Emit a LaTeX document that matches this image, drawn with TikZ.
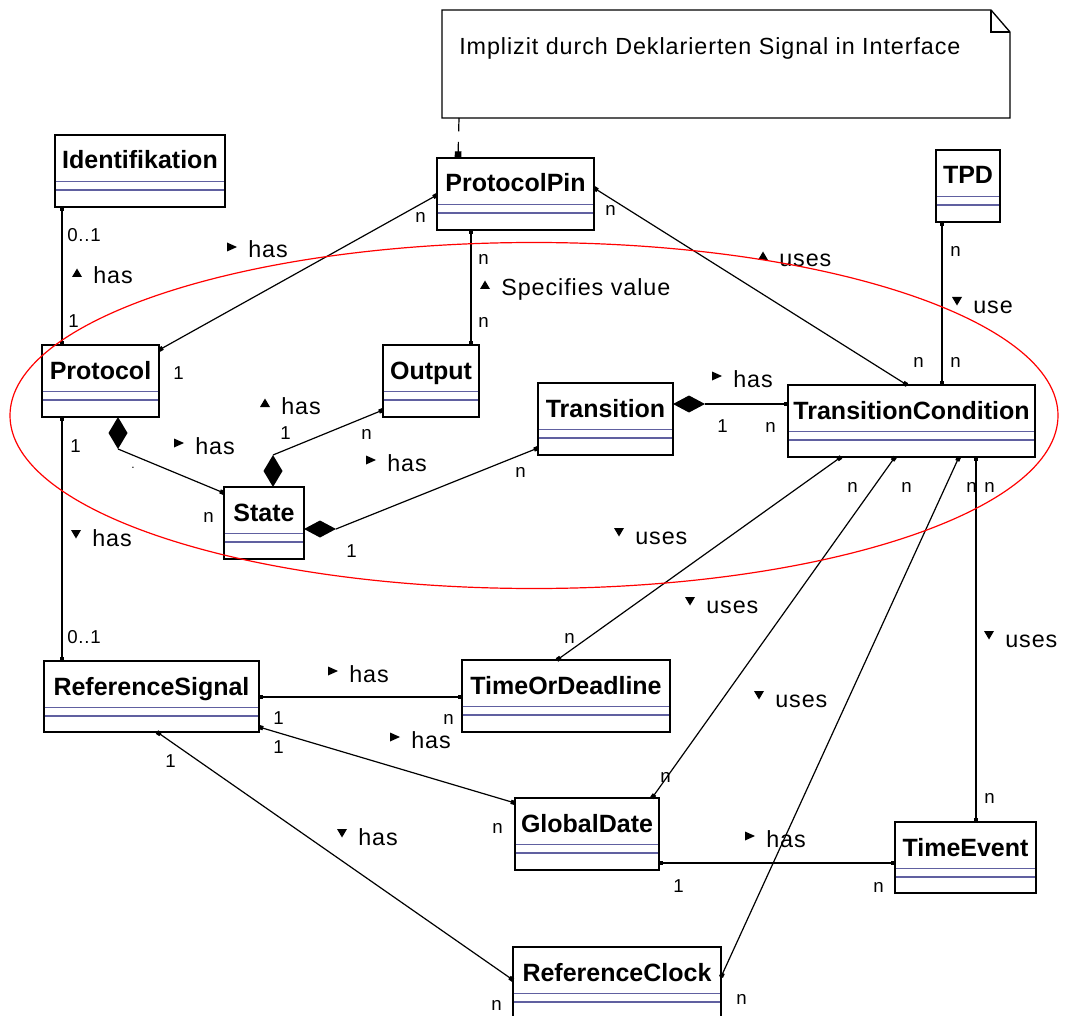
\documentclass[tikz,border=0pt]{standalone}
\usepackage{fontspec}
\setmainfont{Liberation Sans}
\newfontfamily\lblfont[LetterSpace=4]{Liberation Sans}
\usetikzlibrary{calc,arrows.meta}

\definecolor{sepblue}{RGB}{96,96,160}

\tikzset{
  clsbox/.style={draw, line width=1pt, fill=white, inner sep=0pt, outer sep=0pt},
  clsname/.style={anchor=base, inner sep=0pt, font=\fontsize{18.75pt}{22pt}\selectfont\bfseries},
  sepline/.style={draw=sepblue, line width=0.9pt},
  lbl/.style={anchor=base west, inner sep=0pt, font=\lblfont\fontsize{17.5pt}{20pt}\selectfont},
  mult/.style={anchor=base west, inner sep=0pt, font=\lblfont\fontsize{14pt}{16pt}\selectfont},
  sq/.tip={Square[length=3.2pt,width=3.2pt]},
  assoc/.style={line width=0.9pt, sq-sq},
  assocend/.style={line width=0.9pt, -sq},
  tri r/.pic={\fill (0,-15.5) -- (0,-6.5) -- (10,-11) -- cycle;},
  tri u/.pic={\fill (0,-7) -- (10,-7) -- (5,-15.5) -- cycle;},
  tri d/.pic={\fill (0,-16) -- (10,-16) -- (5,-7.5) -- cycle;},
  dia v/.pic={\fill (0,0) -- (9.5,16) -- (0,32) -- (-9.5,16) -- cycle;},
  dia h/.pic={\fill (0,0) -- (16,-8.5) -- (32,0) -- (16,8.5) -- cycle;},
}

% class box: name, x1, y1, x2, y2 (pixel grid, y downwards), title
\newcommand\umlclass[6]{%
  \pgfmathsetmacro\ucx{(#2+#4)/2}%
  \pgfmathsetmacro\ucy{(#3+#5)/2}%
  \pgfmathsetmacro\ucw{(#4-#2)*0.75}%
  \pgfmathsetmacro\uch{(#5-#3)*0.75}%
  \node[clsbox, minimum width=\ucw pt, minimum height=\uch pt] (#1) at (\ucx,\ucy) {};
  \node[clsname] (#1-name) at ($(#1.north)+(0,34)$) {#6};
  \draw[sepline] ($(#1.north west)+(0.7,46.5)$) -- ($(#1.north east)+(-0.7,46.5)$);
  \draw[sepline] ($(#1.north west)+(0.7,55)$) -- ($(#1.north east)+(-0.7,55)$);
}
% role name with direction triangle: name, triangle, x, baseline, text
\newcommand\rolelbl[5]{%
  \node[lbl] (#1) at (#3,#4) {\hspace*{15.75pt}#5};
  \pic at (#1.base west) {#2};
}
% multiplicity: name, x, baseline, text
\newcommand\multlbl[4]{\node[mult] (#1) at (#2,#3) {#4};}

\begin{document}
\begin{tikzpicture}[x=0.75pt,y=-0.75pt]
  \useasboundingbox (0,0) rectangle (1067,1016);
  \fill[white] (0,0) rectangle (1067,1016);
  \clip (0,0) rectangle (1067,1016);

  % note
  \node[inner sep=0pt, outer sep=0pt, minimum width=426pt, minimum height=81pt] (note) at (726,64) {};
  \draw[line width=1pt, fill=white] (note.north west) -- ($(note.north east)+(-19,0)$)
    -- ($(note.north east)+(0,22)$) -- (note.south east) -- (note.south west) -- cycle;
  \draw[line width=1pt] ($(note.north east)+(-19,0)$) -- ($(note.north east)+(-19,22)$)
    -- ($(note.north east)+(0,22)$);
  \node[lbl] (notetext) at (459,55) {Implizit durch Deklarierten Signal in Interface};

  % classes
  \umlclass{ident}{55}{135}{225}{207}{Identifikation}
  \umlclass{pp}{437}{158}{594}{230}{ProtocolPin}
  \umlclass{tpd}{936}{150}{1000}{222}{TPD}
  \umlclass{protocol}{42}{345}{159}{417}{Protocol}
  \umlclass{output}{383}{345}{479}{417}{Output}
  \umlclass{transition}{538}{383}{673}{455}{Transition}
  \umlclass{tc}{788}{385}{1035}{457}{TransitionCondition}
  \umlclass{state}{224}{487}{304}{559}{State}
  \umlclass{rs}{44}{661}{259}{732}{ReferenceSignal}
  \umlclass{tod}{462}{660}{670}{732}{TimeOrDeadline}
  \umlclass{gd}{515}{798}{659}{870}{GlobalDate}
  \umlclass{te}{895}{822}{1036}{893}{TimeEvent}
  \umlclass{rc}{513}{947}{721}{1019}{ReferenceClock}

  % note anchor
  \draw[line width=0.9pt, dash pattern=on 10pt off 8pt, -{Square[length=5pt,width=5pt]}]
    ($(note.south west)+(17,0)$) -- ($(pp.north west)+(21,0)$);

  % associations
  \draw[assoc] ($(ident.south west)+(7,0)$) -- ($(protocol.north west)+(20,0)$);
  \draw[assoc] ($(protocol.north east)+(0,5)$) -- ($(pp.north west)+(0,37)$);
  \draw[assoc] ($(pp.south west)+(34,0)$) -- ($(output.north west)+(88,0)$);
  \draw[assoc] ($(pp.north east)+(0,30)$) -- ($(tc.north west)+(119,0)$);
  \draw[assoc] ($(tpd.south west)+(6,0)$) -- ($(tc.north west)+(154,0)$);
  \draw[assoc] ($(protocol.south west)+(20,0)$) -- ($(rs.north west)+(18,0)$);

  % compositions
  \pic at ($(protocol.south west)+(76,0)$) {dia v};
  \draw[assocend] ($(protocol.south west)+(76,32)$) -- ($(state.north west)+(0,6)$);
  \pic at ($(state.north west)+(49,-32)$) {dia v};
  \draw[assocend] ($(state.north west)+(49,-32)$) -- ($(output.south west)+(0,-7)$);
  \pic at ($(state.north east)+(0,42)$) {dia h};
  \draw[assocend] ($(state.north east)+(32,42)$) -- ($(transition.south west)+(0,-7)$);
  \pic at ($(transition.north east)+(0,21)$) {dia h};
  \draw[assocend] ($(transition.north east)+(32,21)$) -- ($(tc.north west)+(0,19)$);

  % transition condition uses
  \draw[assoc] ($(tc.south west)+(53,0)$) -- ($(tod.north west)+(95,0)$);
  \draw[assoc] ($(tc.south west)+(107,0)$) -- ($(gd.north west)+(137,0)$);
  \draw[assoc] ($(tc.south west)+(171,0)$) -- ($(rc.north east)+(0,30)$);
  \draw[assoc] ($(tc.south west)+(188,0)$) -- ($(te.north west)+(81,0)$);

  % reference signal
  \draw[assoc] ($(rs.north east)+(0,36)$) -- ($(tod.north west)+(0,37)$);
  \draw[assoc] ($(rs.north east)+(0,66)$) -- ($(gd.north west)+(0,5)$);
  \draw[assoc] ($(rs.south west)+(113,0)$) -- ($(rc.north west)+(0,33)$);
  \draw[assoc] ($(gd.north east)+(0,65)$) -- ($(te.north west)+(0,41)$);

  % role names
  \rolelbl{r1}{tri u}{72}{284}{has}
  \rolelbl{r2}{tri r}{227}{258}{has}
  \rolelbl{r3}{tri u}{480}{296}{Specifies value}
  \rolelbl{r4}{tri u}{758}{267}{uses}
  \rolelbl{r5}{tri d}{952}{313}{use}
  \rolelbl{r6}{tri r}{174}{454}{has}
  \rolelbl{r7}{tri u}{260}{414}{has}
  \rolelbl{r8}{tri r}{366}{471}{has}
  \rolelbl{r9}{tri r}{712}{387}{has}
  \rolelbl{r10}{tri d}{614}{544}{uses}
  \rolelbl{r11}{tri d}{685}{613}{uses}
  \rolelbl{r12}{tri d}{754}{707}{uses}
  \rolelbl{r13}{tri d}{984}{647}{uses}
  \rolelbl{r14}{tri r}{328}{682}{has}
  \rolelbl{r15}{tri r}{390}{748}{has}
  \rolelbl{r16}{tri d}{337}{845}{has}
  \rolelbl{r17}{tri r}{745}{847}{has}
  \rolelbl{r18}{tri d}{71}{546}{has}

  % multiplicities
  \multlbl{m1}{67}{242}{0..1}
  \multlbl{m2}{68}{327}{1}
  \multlbl{m3}{415}{223}{n}
  \multlbl{m4}{173}{379}{1}
  \multlbl{m5}{478}{265}{n}
  \multlbl{m6}{478}{327}{n}
  \multlbl{m7}{605}{216}{n}
  \multlbl{m8}{913}{367}{n}
  \multlbl{m9}{950}{257}{n}
  \multlbl{m10}{950}{367}{n}
  \node[mult, font=\lblfont\fontsize{9pt}{10pt}\selectfont] (m11) at (131,468) {.};
  \multlbl{m12}{203}{522}{n}
  \multlbl{m13}{280}{439}{1}
  \multlbl{m14}{361}{439}{n}
  \multlbl{m15}{515}{477}{n}
  \multlbl{m16}{346}{557}{1}
  \multlbl{m17}{717}{432}{1}
  \multlbl{m18}{765}{432}{n}
  \multlbl{m19}{847}{492}{n}
  \multlbl{m20}{901}{492}{n}
  \multlbl{m21}{966}{492}{n}
  \multlbl{m22}{984}{492}{n}
  \multlbl{m23}{564}{643}{n}
  \multlbl{m24}{660}{782}{n}
  \multlbl{m25}{736}{1004}{n}
  \multlbl{m26}{984}{803}{n}
  \multlbl{m27}{273}{724}{1}
  \multlbl{m28}{443}{724}{n}
  \multlbl{m29}{273}{753}{1}
  \multlbl{m30}{492}{833}{n}
  \multlbl{m31}{165}{767}{1}
  \multlbl{m32}{491}{1010}{n}
  \multlbl{m33}{673}{892}{1}
  \multlbl{m34}{873}{892}{n}
  \multlbl{m35}{70}{452}{1}
  \multlbl{m36}{67}{643}{0..1}

  % highlighted region
  \draw[red, line width=0.9pt] (534,415.5) ellipse [x radius=393pt, y radius=129.75pt];
\end{tikzpicture}
\end{document}
